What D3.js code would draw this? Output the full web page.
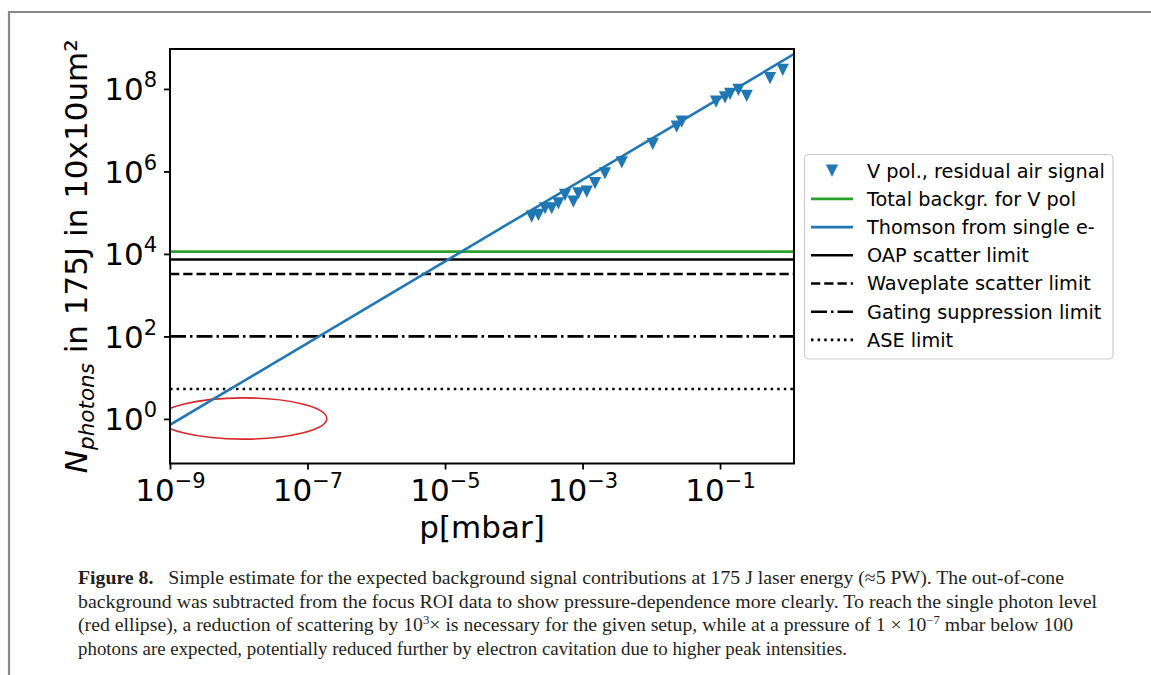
<!DOCTYPE html>
<html><head><meta charset="utf-8">
<script src="https://cdn.jsdelivr.net/npm/d3@7"></script>
<style>html,body{margin:0;padding:0;background:#fff;} svg{display:block;}</style>
</head><body>
<svg id="chart" width="1151" height="675"></svg>
<script>
// ---------------- data ----------------
const pressure = [1.82e-4, 2.28e-4, 2.85e-4, 3.56e-4, 4.45e-4, 5.56e-4, 7.35e-4, 8.69e-4,
  1.15e-3, 1.52e-3, 2.12e-3, 3.72e-3, 1.05e-2, 2.34e-2, 2.77e-2, 8.75e-2,
  0.118, 0.140, 0.185, 0.244, 0.533, 0.817];
const photons = [8.0e4, 8.8e4, 1.28e5, 1.28e5, 1.69e5, 2.69e5, 1.85e5, 2.96e5,
  3.24e5, 5.18e5, 9.0e5, 1.65e6, 4.64e6, 1.22e7, 1.61e7, 4.93e7,
  6.28e7, 7.57e7, 9.46e7, 6.77e7, 1.82e8, 2.89e8];
const thomsonP = [1e-9, 1.19];
const thomsonN = [0.72, 7.0e8];
const limitNames = ["Total backgr. for V pol", "OAP scatter limit", "Waveplate scatter limit",
  "Gating suppression limit", "ASE limit"];
const limitValues = [1.14e4, 7.3e3, 3.27e3, 1.0e2, 5.3];
const xDomain = [1e-9, 1.19];
const yDomain = [0.083, 9.3e8];
const xTickValues = [1e-9, 1e-7, 1e-5, 1e-3, 1e-1];
const xTickExponents = ["\u22129", "\u22127", "\u22125", "\u22123", "\u22121"];
const yTickValues = [1, 1e2, 1e4, 1e6, 1e8];
const yTickExponents = ["0", "2", "4", "6", "8"];
const legendLabels = ["V pol., residual air signal", "Total backgr. for V pol", "Thomson from single e-",
  "OAP scatter limit", "Waveplate scatter limit", "Gating suppression limit", "ASE limit"];
const ellipseP = [Math.pow(10, -9.15), Math.pow(10, -6.72)];
const ellipseN = [Math.pow(10, -0.49), Math.pow(10, 0.51)];

// ---------------- layout / styles ----------------
const svg = d3.select("#chart");
const M = {left: 170, right: 794, top: 49, bottom: 463.5};
const x = d3.scaleLog().domain(xDomain).range([M.left, M.right]);
const y = d3.scaleLog().domain(yDomain).range([M.bottom, M.top]);
const BLUE = "#1f77b4", GREEN = "#2ca02c", RED = "#d62728";
const LW = 2.6;
const styleFor = {
  "Total backgr. for V pol": {color: GREEN, dash: null},
  "Thomson from single e-": {color: BLUE, dash: null},
  "OAP scatter limit": {color: "#000", dash: null},
  "Waveplate scatter limit": {color: "#000", dash: "9.25,4"},
  "Gating suppression limit": {color: "#000", dash: "16,4,2.5,4"},
  "ASE limit": {color: "#000", dash: "2.5,4.1"}
};
const SANS = "'DejaVu Sans', sans-serif";
const TICK_FS = 31, SUP_FS = 21;

// frame
svg.append("line").attr("x1", 8).attr("x2", 1151).attr("y1", 12).attr("y2", 12)
  .attr("stroke", "#888").attr("stroke-width", 2.2);
svg.append("line").attr("x1", 9).attr("x2", 9).attr("y1", 11).attr("y2", 675)
  .attr("stroke", "#888").attr("stroke-width", 2.2);

// clip
svg.append("defs").append("clipPath").attr("id", "plotclip").append("rect")
  .attr("x", M.left).attr("y", M.top).attr("width", M.right - M.left).attr("height", M.bottom - M.top);
const plot = svg.append("g").attr("clip-path", "url(#plotclip)");

// horizontal limit lines
limitNames.forEach((n, i) => {
  const s = styleFor[n];
  plot.append("line").attr("x1", x(xDomain[0])).attr("x2", x(xDomain[1]))
    .attr("y1", y(limitValues[i])).attr("y2", y(limitValues[i]))
    .attr("stroke", s.color).attr("stroke-width", LW)
    .attr("stroke-dasharray", s.dash);
});

// red ellipse
const ecx = (x(ellipseP[0]) + x(ellipseP[1])) / 2, ecy = (y(ellipseN[0]) + y(ellipseN[1])) / 2;
plot.append("ellipse").attr("cx", ecx).attr("cy", ecy)
  .attr("rx", (x(ellipseP[1]) - x(ellipseP[0])) / 2).attr("ry", (y(ellipseN[0]) - y(ellipseN[1])) / 2)
  .attr("fill", "none").attr("stroke", RED).attr("stroke-width", 1.6);

// markers
const triPath = "M0,6.1L-6.1,-6.1L6.1,-6.1Z";
plot.selectAll("path.pt").data(pressure.map((p, i) => [p, photons[i]])).join("path")
  .attr("class", "pt").attr("d", triPath)
  .attr("transform", d => `translate(${x(d[0])},${y(d[1])})`)
  .attr("fill", BLUE);

// thomson line
plot.append("path").datum(thomsonP.map((p, i) => [p, thomsonN[i]]))
  .attr("d", d3.line().x(d => x(d[0])).y(d => y(d[1])))
  .attr("stroke", BLUE).attr("stroke-width", LW).attr("fill", "none");

// axes
const xAxis = svg.append("g").attr("transform", `translate(0,${M.bottom})`)
  .call(d3.axisBottom(x).tickValues(xTickValues).tickSize(6).tickSizeOuter(0).tickFormat(() => ""));
xAxis.select(".domain").remove();
xAxis.selectAll(".tick line").attr("stroke", "#000").attr("stroke-width", 1.8);
xAxis.selectAll(".tick text").each(function(d, i) {
  const t = d3.select(this);
  t.attr("y", 37.5).attr("dy", null).attr("font-family", SANS).attr("font-size", TICK_FS)
    .attr("fill", "#000").attr("text-anchor", "middle");
  t.append("tspan").text("10");
  t.append("tspan").attr("dy", -13).attr("font-size", SUP_FS).text(xTickExponents[i]);
});
const yAxis = svg.append("g").attr("transform", `translate(${M.left},0)`)
  .call(d3.axisLeft(y).tickValues(yTickValues).tickSize(6).tickSizeOuter(0).tickFormat(() => ""));
yAxis.select(".domain").remove();
yAxis.selectAll(".tick line").attr("stroke", "#000").attr("stroke-width", 1.8);
yAxis.selectAll(".tick text").each(function(d, i) {
  const t = d3.select(this);
  t.attr("x", -13).attr("dy", null).attr("y", 11).attr("font-family", SANS).attr("font-size", TICK_FS)
    .attr("fill", "#000").attr("text-anchor", "end");
  t.append("tspan").text("10");
  t.append("tspan").attr("dy", -13).attr("font-size", SUP_FS).text(yTickExponents[i]);
});

// spines
svg.append("rect").attr("x", M.left).attr("y", M.top).attr("width", M.right - M.left)
  .attr("height", M.bottom - M.top).attr("fill", "none").attr("stroke", "#000").attr("stroke-width", 2);

// axis labels
svg.append("text").attr("x", (M.left + M.right) / 2).attr("y", 538)
  .attr("text-anchor", "middle").attr("font-family", SANS).attr("font-size", 31).text("p[mbar]");
const yl = svg.append("text").attr("transform", `translate(87,${(M.top + M.bottom) / 2}) rotate(-90)`)
  .attr("text-anchor", "middle").attr("font-family", SANS).attr("font-size", 31);
yl.append("tspan").attr("font-style", "italic").text("N");
yl.append("tspan").attr("font-style", "italic").attr("font-size", 21.5).attr("dy", 7).text("photons");
yl.append("tspan").attr("dy", -7).text(" in 175J in 10x10um\u00b2");

// legend
const L = {x: 804.5, y: 154.5, w: 308.5, h: 204.5, row0: 170.7, rowH: 28.2, hx0: 811, hx1: 853, tx: 867};
svg.append("rect").attr("x", L.x).attr("y", L.y).attr("width", L.w).attr("height", L.h)
  .attr("rx", 4).attr("fill", "#fff").attr("fill-opacity", 0.8).attr("stroke", "#cccccc").attr("stroke-width", 1.2);
legendLabels.forEach((lab, i) => {
  const cy = L.row0 + i * L.rowH;
  if (i === 0) {
    svg.append("path").attr("d", triPath).attr("fill", BLUE)
      .attr("transform", `translate(${(L.hx0 + L.hx1) / 2},${cy})`);
  } else {
    const s = styleFor[lab];
    svg.append("line").attr("x1", L.hx0).attr("x2", L.hx1).attr("y1", cy).attr("y2", cy)
      .attr("stroke", s.color).attr("stroke-width", LW).attr("stroke-dasharray", s.dash);
  }
  svg.append("text").attr("x", L.tx).attr("y", cy + 6.8).attr("font-family", SANS)
    .attr("font-size", 19.3).attr("fill", "#000").text(lab);
});

// caption
const SERIF = "'Liberation Serif', 'Times New Roman', serif";
const capX = 78, capSize = 18.5;
const capBase = [584, 607.7, 631.3, 655];
const capLen = [986, 1019, 995, 769];
function capLine(i) {
  return svg.append("text").attr("x", capX).attr("y", capBase[i]).attr("font-family", SERIF)
    .attr("font-size", capSize).attr("fill", "#231f20")
    .attr("textLength", capLen[i]).attr("lengthAdjust", "spacingAndGlyphs");
}
let c = capLine(0);
c.append("tspan").attr("font-weight", "bold").text("Figure 8.");
c.append("tspan").text("\u2002 Simple estimate for the expected background signal contributions at 175 J laser energy (\u22485 PW). The out-of-cone");
capLine(1).text("background was subtracted from the focus ROI data to show pressure-dependence more clearly. To reach the single photon level");
c = capLine(2);
c.append("tspan").text("(red ellipse), a reduction of scattering by 10");
c.append("tspan").attr("font-size", 12).attr("dy", -7).text("3");
c.append("tspan").attr("dy", 7).text("\u00d7 is necessary for the given setup, while at a pressure of 1 \u00d7 10");
c.append("tspan").attr("font-size", 12).attr("dy", -7).text("\u22127");
c.append("tspan").attr("dy", 7).text(" mbar below 100");
capLine(3).text("photons are expected, potentially reduced further by electron cavitation due to higher peak intensities.");
</script>
</body></html>
